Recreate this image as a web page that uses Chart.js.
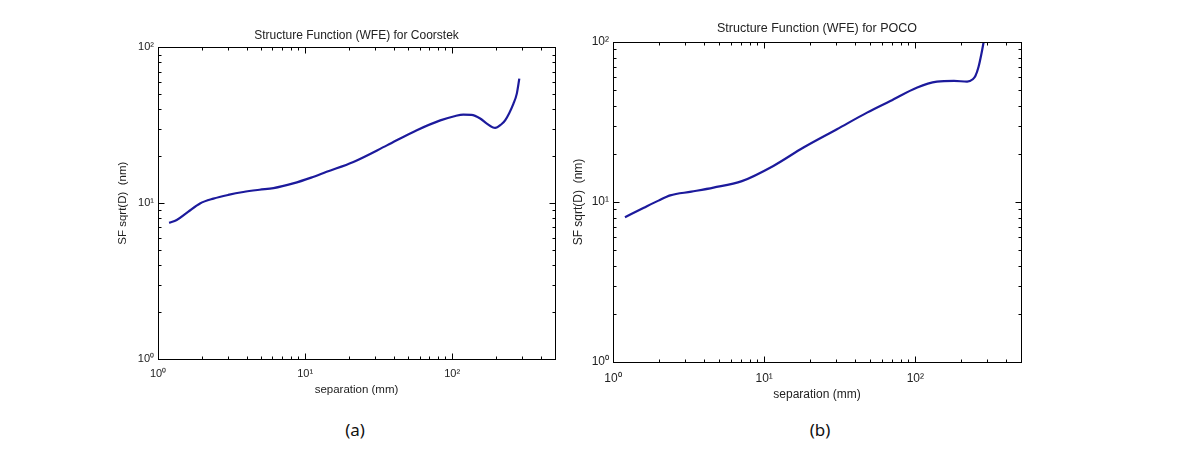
<!DOCTYPE html>
<html>
<head>
<meta charset="utf-8">
<script src="https://cdn.jsdelivr.net/npm/chart.js@4.4.1/dist/chart.umd.min.js"></script>
<style>
  body { margin: 0; background: #fff; width: 1190px; height: 461px; position: relative; overflow: hidden; }
  .box { position: absolute; }
  .cap { position: absolute; font-family: "Noto Sans", sans-serif; font-size: 17px; color: #111; transform: translateX(-50%); }
</style>
</head>
<body>
<div class="box" style="left:100px; top:14px; width:470px; height:396px;"><canvas id="chartA"></canvas></div>
<div class="box" style="left:560px; top:10px; width:480px; height:400px;"><canvas id="chartB"></canvas></div>
<div class="cap" style="left:355px; top:418px;">(a)</div>
<div class="cap" style="left:820px; top:418px;">(b)</div>
<script>
// ---- data ----
const coorSep = [1.19, 1.34, 1.6, 1.93, 2.38, 3.0, 3.8, 4.9, 6.1, 8.3, 11, 14, 21.3, 36, 57.5, 83, 105, 119, 135, 155, 172, 196, 215, 229, 261, 275, 286];
const coorSF  = [7.48, 7.8, 8.8, 9.96, 10.7, 11.3, 11.8, 12.2, 12.5, 13.4, 14.6, 15.9, 18.4, 23.5, 29.4, 34.0, 36.3, 37.0, 36.9, 35.0, 32.4, 30.4, 32.0, 34.0, 43.6, 50.5, 63.0];

const pocoSep = [1.2, 1.6, 2.0, 2.39, 3.3, 4.62, 7.12, 11.5, 18.2, 30.3, 47.9, 68.3, 103, 139, 180, 220, 240, 250, 262, 272, 283];
const pocoSF  = [8.03, 9.2, 10.2, 11.0, 11.6, 12.3, 13.5, 16.8, 21.9, 28.5, 36.2, 42.8, 52.0, 56.5, 57.2, 56.5, 58.5, 61.5, 70.0, 82.0, 100];

// tick values and labels
const decadeTicks = [1, 10, 100];
const decadeLabels = ["10\u2070", "10\u00b9", "10\u00b2"];
const xTickValues = [1, 2, 3, 4, 5, 6, 7, 8, 9, 10, 20, 30, 40, 50, 60, 70, 80, 90, 100, 200, 300, 400, 500];
const yTickValues = [1, 2, 3, 4, 5, 6, 7, 8, 9, 10, 20, 30, 40, 50, 60, 70, 80, 90, 100];

const FONT = "'Liberation Sans', Arial, sans-serif";
const LINE_COLOR = "#1c1a9c";

// matlab style box with inward ticks on all four sides
const inwardTicks = {
  id: "inwardTicks",
  afterDraw(chart) {
    const { ctx, chartArea: a, scales } = chart;
    ctx.save();
    ctx.strokeStyle = "#000";
    ctx.lineWidth = 1;
    const L = Math.round(a.left) + 0.5, R = Math.round(a.right) + 0.5;
    const T = Math.round(a.top) + 0.5, B = Math.round(a.bottom) + 0.5;
    ctx.strokeRect(L, T, R - L, B - T);
    ctx.beginPath();
    scales.x.ticks.forEach(t => {
      const px = Math.round(scales.x.getPixelForValue(t.value)) + 0.5;
      const len = t.major ? 6 : 3;
      ctx.moveTo(px, B); ctx.lineTo(px, B - len);
      ctx.moveTo(px, T); ctx.lineTo(px, T + len);
    });
    scales.y.ticks.forEach(t => {
      const py = Math.round(scales.y.getPixelForValue(t.value)) + 0.5;
      const len = t.major ? 6 : 3;
      ctx.moveTo(L, py); ctx.lineTo(L + len, py);
      ctx.moveTo(R, py); ctx.lineTo(R - len, py);
    });
    ctx.stroke();
    ctx.restore();
  }
};

function makeChart(id, sep, sf, cfg) {
  const pts = sep.map((x, i) => ({ x: x, y: sf[i] }));
  return new Chart(document.getElementById(id), {
    type: "line",
    data: {
      datasets: [{
        data: pts,
        borderColor: LINE_COLOR,
        borderWidth: 2.2,
        pointRadius: 0,
        cubicInterpolationMode: "monotone",
        fill: false
      }]
    },
    options: {
      responsive: true,
      maintainAspectRatio: false,
      animation: false,
      layout: { padding: { left: 0, right: cfg.padRight, top: 0, bottom: 0 } },
      plugins: {
        legend: { display: false },
        tooltip: { enabled: false },
        title: {
          display: true,
          fullSize: false,
          text: cfg.title,
          color: "#222",
          font: { family: FONT, size: cfg.titleFont, weight: "normal" },
          padding: cfg.titlePad
        }
      },
      scales: {
        x: {
          type: "logarithmic",
          min: 1,
          max: 500,
          afterBuildTicks: s => { s.ticks = xTickValues.map(v => ({ value: v, major: decadeTicks.includes(v) })); },
          afterFit: s => { s.height = cfg.xAxisH; },
          grid: { display: false, drawTicks: false },
          border: { display: false },
          ticks: {
            autoSkip: false,
            maxRotation: 0,
            padding: cfg.xTickPad,
            color: "#222",
            font: { family: FONT, size: cfg.tickFont },
            callback: v => { const k = decadeTicks.indexOf(v); return k >= 0 ? decadeLabels[k] : ""; }
          },
          title: {
            display: true,
            text: "separation (mm)",
            color: "#222",
            font: { family: FONT, size: cfg.axisFont },
            padding: { top: 0, bottom: cfg.xTitlePad }
          }
        },
        y: {
          type: "logarithmic",
          min: 1,
          max: 100,
          afterBuildTicks: s => { s.ticks = yTickValues.map(v => ({ value: v, major: decadeTicks.includes(v) })); },
          afterFit: s => { s.width = cfg.yAxisW; },
          grid: { display: false, drawTicks: false },
          border: { display: false },
          ticks: {
            autoSkip: false,
            padding: 4,
            color: "#222",
            font: { family: FONT, size: cfg.tickFont },
            callback: v => { const k = decadeTicks.indexOf(v); return k >= 0 ? decadeLabels[k] : ""; }
          },
          title: {
            display: true,
            text: "SF sqrt(D)  (nm)",
            color: "#222",
            font: { family: FONT, size: cfg.axisFont },
            padding: { top: cfg.yTitlePad, bottom: 0 }
          }
        }
      }
    },
    plugins: [inwardTicks]
  });
}

makeChart("chartA", coorSep, coorSF, {
  title: "Structure Function (WFE) for Coorstek",
  titleFont: 12,
  axisFont: 11.5,
  tickFont: 11,
  padRight: 15,
  titlePad: { top: 14, bottom: 5 },
  xAxisH: 51,
  yAxisW: 58,
  xTickPad: 8,
  xTitlePad: 13,
  yTitlePad: 16
});

makeChart("chartB", pocoSep, pocoSF, {
  title: "Structure Function (WFE) for POCO",
  titleFont: 12.5,
  axisFont: 12,
  tickFont: 12,
  padRight: 19,
  titlePad: { top: 11, bottom: 6 },
  xAxisH: 48,
  yAxisW: 53,
  xTickPad: 9,
  xTitlePad: 8,
  yTitlePad: 11
});
</script>
</body>
</html>
